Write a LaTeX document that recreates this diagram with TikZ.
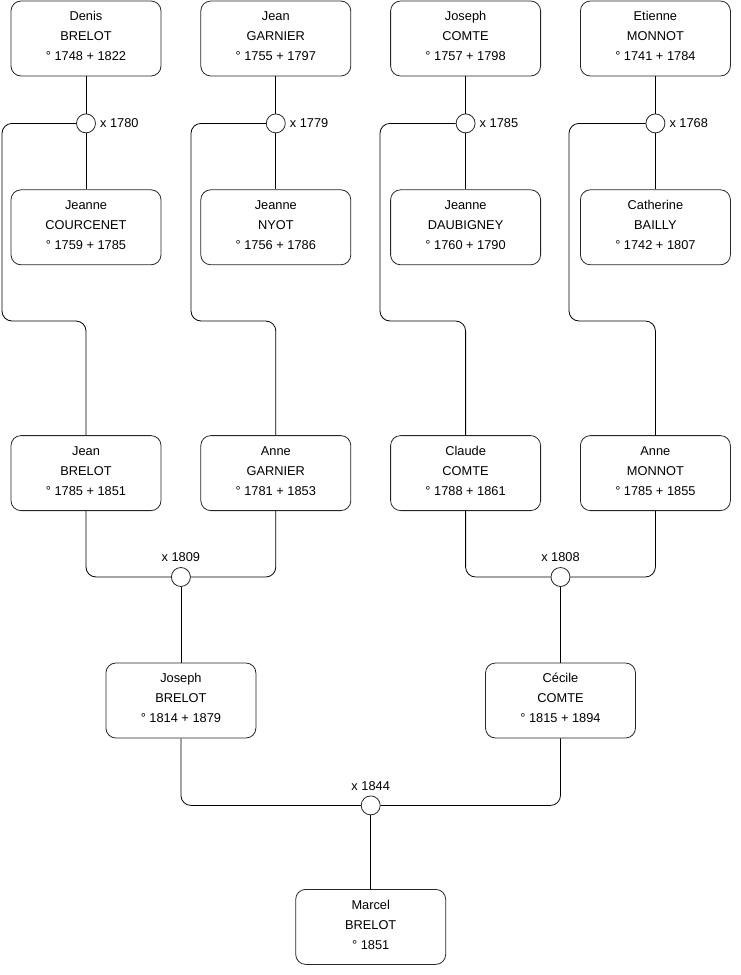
\documentclass[tikz,border=0pt]{standalone}
\usepackage{fontspec}
\setmainfont{Liberation Sans}
\usetikzlibrary{positioning,calc}

\begin{document}
\begin{tikzpicture}[x=1pt, y=-1pt,
  node distance=113pt and 39pt,
  person/.style={draw=black!85, line width=0.8pt, rounded corners=10pt, minimum width=150pt,
                 minimum height=75pt, inner sep=0pt, align=center, text depth=5pt,
                 font=\fontsize{12.8}{20}\selectfont},
  wed/.style={draw=black!85, line width=0.8pt, fill=white, circle, minimum size=19pt, inner sep=0pt},
  yr/.style={font=\fontsize{12.8}{14}\selectfont, inner sep=0pt},
  link/.style={draw=black, line width=0.8pt, rounded corners=10pt}
]
\useasboundingbox (0,0) rectangle (740,975);
% generation 1
\node[person] (denis) at (86,38.5) {Denis\\BRELOT\\° 1748 + 1822};
\node[person, right=of denis]   (jeanG)   {Jean\\GARNIER\\° 1755 + 1797};
\node[person, right=of jeanG]   (josephC) {Joseph\\COMTE\\° 1757 + 1798};
\node[person, right=of josephC] (etienne) {Etienne\\MONNOT\\° 1741 + 1784};
\node[person, below=of denis]   (jeanneC) {Jeanne\\COURCENET\\° 1759 + 1785};
\node[person, below=of jeanG]   (jeanneN) {Jeanne\\NYOT\\° 1756 + 1786};
\node[person, below=of josephC] (jeanneD) {Jeanne\\DAUBIGNEY\\° 1760 + 1790};
\node[person, below=of etienne] (cathB)   {Catherine\\BAILLY\\° 1742 + 1807};
% marriages, generation 1
\node[wed] (w1780) at ($(denis.south)+(0,47)$) {};
\node[wed] (w1779) at ($(jeanG.south)+(0,47)$) {};
\node[wed] (w1785) at ($(josephC.south)+(0,47)$) {};
\node[wed] (w1768) at ($(etienne.south)+(0,47)$) {};
\node[yr, right=4pt of w1780] (l1780) {x 1780};
\node[yr, right=4pt of w1779] (l1779) {x 1779};
\node[yr, right=4pt of w1785] (l1785) {x 1785};
\node[yr, right=4pt of w1768] (l1768) {x 1768};
% generation 2
\node[person, below=170pt of jeanneC] (jeanB)   {Jean\\BRELOT\\° 1785 + 1851};
\node[person, below=170pt of jeanneN] (anneG)   {Anne\\GARNIER\\° 1781 + 1853};
\node[person, below=170pt of jeanneD] (claudeC) {Claude\\COMTE\\° 1788 + 1861};
\node[person, below=170pt of cathB]   (anneM)   {Anne\\MONNOT\\° 1785 + 1855};
\node[wed] (w1809) at ($(jeanB.south)!0.5!(anneG.south)+(0,66)$) {};
\node[wed] (w1808) at ($(claudeC.south)!0.5!(anneM.south)+(0,66)$) {};
\node[yr, above=5pt of w1809] (l1809) {x 1809};
\node[yr, above=5pt of w1808] (l1808) {x 1808};
% generation 3
\node[person] (josephB) at ($(w1809)+(0,123.5)$) {Joseph\\BRELOT\\° 1814 + 1879};
\node[person] (cecileC) at ($(w1808)+(0,123.5)$) {Cécile\\COMTE\\° 1815 + 1894};
\node[wed] (w1844) at ($(josephB.south)!0.5!(cecileC.south)+(0,67)$) {};
\node[yr, above=5pt of w1844] (l1844) {x 1844};
\node[person] (marcel) at ($(w1844)+(0,121.5)$) {Marcel\\BRELOT\\° 1851};

\draw[link] (denis)   -- (w1780) -- (jeanneC);
\draw[link] (jeanG)   -- (w1779) -- (jeanneN);
\draw[link] (josephC) -- (w1785) -- (jeanneD);
\draw[link] (etienne) -- (w1768) -- (cathB);
\draw[link] (w1780.west) -| (2,321)   -| (jeanB.north);
\draw[link] (w1779.west) -| (191,321) -| (anneG.north);
\draw[link] (w1785.west) -| (380,321) -| (claudeC.north);
\draw[link] (w1768.west) -| (569,321) -| (anneM.north);
\draw[link] (jeanB.south)   |- (w1809.west);
\draw[link] (anneG.south)   |- (w1809.east);
\draw[link] (claudeC.south) |- (w1808.west);
\draw[link] (anneM.south)   |- (w1808.east);
\draw[link] (w1809) -- (josephB);
\draw[link] (w1808) -- (cecileC);
\draw[link] (josephB.south) |- (w1844.west);
\draw[link] (cecileC.south) |- (w1844.east);
\draw[link] (w1844) -- (marcel);
\end{tikzpicture}
\end{document}
